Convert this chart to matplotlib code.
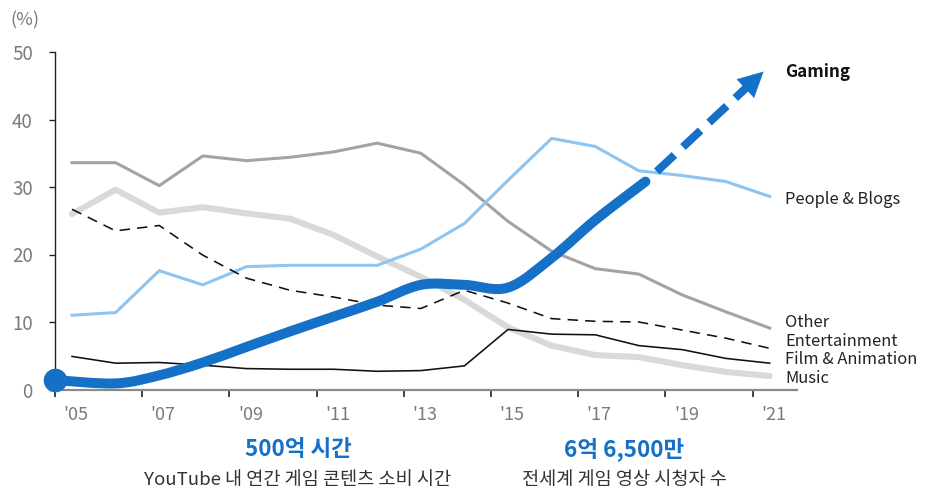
import numpy as np
import matplotlib
matplotlib.use("Agg")
import matplotlib.pyplot as plt
from matplotlib.path import Path
from matplotlib.patches import PathPatch, FancyArrowPatch
from matplotlib.transforms import ScaledTranslation

plt.rcParams['font.family'] = ['Noto Sans CJK KR', 'DejaVu Sans']

# ---- data (share of YouTube watch time by category, %) ----
years = np.arange(2005, 2022)
people_blogs = [11.0, 11.4, 17.6, 15.5, 18.2, 18.4, 18.4, 18.4, 20.8, 24.6,
                31.0, 37.2, 36.0, 32.4, 31.7, 30.8, 28.6]
other = [33.6, 33.6, 30.2, 34.6, 33.9, 34.4, 35.2, 36.5, 35.0, 30.3,
         24.9, 20.5, 17.9, 17.1, 14.0, 11.5, 9.1]
entertainment = [26.7, 23.5, 24.3, 19.9, 16.5, 14.7, 13.7, 12.5, 12.0, 14.7,
                 12.8, 10.5, 10.1, 10.0, 8.8, 7.6, 6.1]
film_animation = [4.9, 3.9, 4.0, 3.6, 3.1, 3.0, 3.0, 2.7, 2.8, 3.5,
                  8.9, 8.2, 8.1, 6.5, 5.9, 4.6, 3.9]
music = [26.0, 29.6, 26.2, 27.0, 26.1, 25.3, 22.9, 19.7, 16.7, 13.3,
         9.2, 6.5, 5.1, 4.8, 3.6, 2.6, 2.0]

gaming_x = [2004.61, 2006, 2007, 2008, 2009, 2010, 2011, 2012, 2013, 2014,
            2015, 2016, 2017, 2018.15]
gaming_y = [1.4, 0.9, 2.1, 4.0, 6.3, 8.6, 10.8, 13.0, 15.5, 15.5,
            15.1, 19.5, 25.1, 30.8]
# projected trend arrow (start, tip)
gaming_proj_x = [2018.41, 2020.86]
gaming_proj_y = [32.3, 47.1]

year_labels = ["'%02d" % (y % 100) for y in range(2005, 2022, 2)]
side_labels = ["Gaming", "People & Blogs", "Other", "Entertainment",
               "Film & Animation", "Music"]
stat_values = ["500억 시간", "6억 6,500만"]
stat_captions = ["YouTube 내 연간 게임 콘텐츠 소비 시간", "전세계 게임 영상 시청자 수"]

# ---- colours ----
BLUE = "#1570c8"
LIGHT_BLUE = "#8ec4f2"
GRAY = "#a3a3a3"
LIGHT_GRAY = "#d9d9d9"

W, H = 932, 491
fig = plt.figure(figsize=(W / 100, H / 100), dpi=100)


def fx(px):
    return px / W


def fy(py):
    return 1 - py / H


ax = fig.add_axes([fx(55), fy(389.5), fx(796.7) - fx(55), fy(52) - fy(389.5)])
ax.set_xlim(2004.61, 2021.62)
ax.set_ylim(0, 50)

# ---- category lines ----
ax.plot(years, music, color=LIGHT_GRAY, lw=4.4, solid_joinstyle='round',
        solid_capstyle='round', zorder=2)
ax.plot(years, other, color=GRAY, lw=2.2, solid_joinstyle='round', zorder=3)
ax.plot(years, people_blogs, color=LIGHT_BLUE, lw=2.2, solid_joinstyle='round', zorder=3)
ax.plot(years, film_animation, color="#111111", lw=1.15, zorder=3)
ax.plot(years, entertainment, color="#111111", lw=1.15, dashes=(6.5, 4.5), zorder=3)


# ---- gaming: smooth curve through the points (Catmull-Rom -> cubic Bezier) ----
def smooth_path(xs, ys):
    p = np.column_stack([xs, ys]).astype(float)
    ext = np.vstack([p[0], p, p[-1]])
    verts = [p[0]]
    codes = [Path.MOVETO]
    for i in range(len(p) - 1):
        p0, p1, p2, p3 = ext[i], ext[i + 1], ext[i + 2], ext[i + 3]
        c1 = p1 + (p2 - p0) / 6.0
        c2 = p2 - (p3 - p1) / 6.0
        verts += [c1, c2, p2]
        codes += [Path.CURVE4] * 3
    return Path(verts, codes)


ax.add_patch(PathPatch(smooth_path(gaming_x, gaming_y), fill=False, edgecolor=BLUE,
                       lw=7.2, capstyle='round', joinstyle='round', zorder=5,
                       clip_on=False))
ax.plot(gaming_x[0], gaming_y[0], 'o', color=BLUE, ms=16, zorder=6, clip_on=False)

# dashed projection with a filled head
fig.canvas.draw()
start = ax.transData.transform((gaming_proj_x[0], gaming_proj_y[0]))
tip = ax.transData.transform((gaming_proj_x[1], gaming_proj_y[1]))
d = (tip - start) / np.linalg.norm(tip - start)
shaft_end = ax.transData.inverted().transform(tip - d * 14)
ax.plot([gaming_proj_x[0], shaft_end[0]], [gaming_proj_y[0], shaft_end[1]],
        color=BLUE, lw=5.8, dashes=(3.0, 1.45), solid_capstyle='butt',
        dash_capstyle='butt', zorder=5, clip_on=False)
base = ax.transData.inverted().transform(tip - d * 26)
ax.add_patch(FancyArrowPatch((base[0], base[1]), (gaming_proj_x[1], gaming_proj_y[1]),
                             arrowstyle="-|>,head_length=17.5,head_width=9",
                             mutation_scale=1, lw=0.3, color=BLUE,
                             shrinkA=0, shrinkB=0, zorder=6, clip_on=False))

# ---- axes styling ----
for s in ("top", "right"):
    ax.spines[s].set_visible(False)
ax.spines["left"].set_color("#222222")
ax.spines["left"].set_linewidth(1.0)
ax.spines["bottom"].set_color("#8a8a8a")
ax.spines["bottom"].set_linewidth(1.6)

ax.set_yticks(range(0, 51, 10))
ax.tick_params(axis='y', direction='out', length=4, width=1, color="#222222",
               labelsize=13.5, labelcolor="#7a7a7a", pad=12)

ax.set_xticks(np.arange(2005, 2022, 2))
ax.set_xticklabels(year_labels)
ax.set_xticks(np.arange(2004.61, 2021.0, 2), minor=True)
ax.tick_params(axis='x', which='major', length=0, labelsize=13,
               labelcolor="#7a7a7a", pad=12)
ax.tick_params(axis='x', which='minor', direction='out', length=5, width=1.2,
               color="#222222")
for lab in ax.get_xticklabels():
    lab.set_transform(lab.get_transform() + ScaledTranslation(4 / 100, 0, fig.dpi_scale_trans))

fig.text(fx(25), fy(20), "(%)", ha='center', va='center', fontsize=13, color="#7a7a7a")

# ---- series labels on the right ----
label_y = [71.7, 200, 322.7, 341.7, 360, 378.3]
for i, (txt, yy) in enumerate(zip(side_labels, label_y)):
    fig.text(fx(785), fy(yy), txt, ha='left', va='center',
             fontsize=12.3 if i == 0 else 11.9,
             color="#111111" if i == 0 else "#222222",
             fontweight='bold' if i == 0 else 'normal')

# ---- key figures below the chart ----
for cx, val, cap in zip([298, 624], stat_values, stat_captions):
    fig.text(fx(cx), fy(449), val, ha='center', va='center', fontsize=16.2,
             fontweight='bold', color=BLUE)
    fig.text(fx(cx), fy(480), cap, ha='center', va='center', fontsize=13.4,
             color="#333333")

fig.savefig("out.png", dpi=100)
